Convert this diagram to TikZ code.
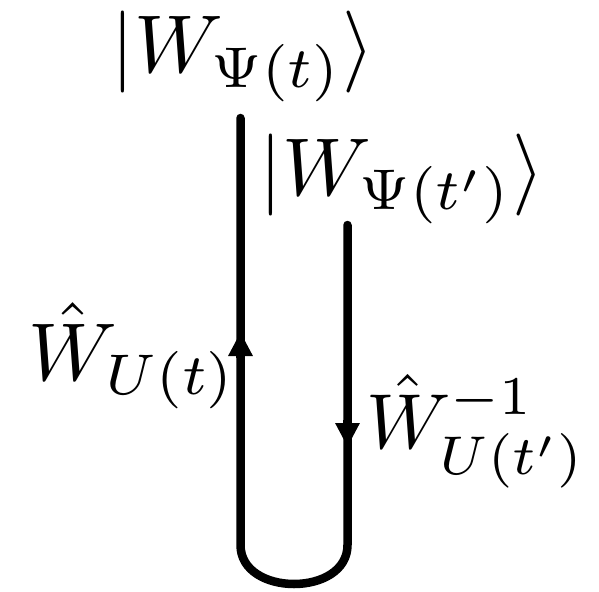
\documentclass[tikz,border=0pt]{standalone}
\usepackage{graphicx}
\usetikzlibrary{arrows.meta}
\newcommand{\bigmath}[2][8.2]{\scalebox{#1}{$#2$}}
\begin{document}
\begin{tikzpicture}[x=1pt,y=-1pt,
  lbl/.style={inner sep=0pt},
  wire/.style={line width=8.5pt, line cap=round},
  tipline/.style={line width=8.5pt, -{Triangle[length=24pt,width=23pt]}}]
\useasboundingbox (0,0) rectangle (599,591);
\coordinate (L) at (240.5,118);
\coordinate (Lb) at (240.5,545);
\coordinate (Rb) at (347.5,545);
\coordinate (R) at (347.5,225);
\draw[wire] (R) -- (Rb) .. controls (347.5,597) and (240.5,597) .. (Lb) -- (L);
\coordinate (la1) at (240.5,358);
\coordinate (la2) at (240.5,332);
\draw[tipline] (la1) -- (la2);
\coordinate (ra1) at (347.5,420);
\coordinate (ra2) at (347.5,447);
\draw[tipline] (ra1) -- (ra2);
\node[lbl, anchor=base] (top) at (243,73) {\bigmath{|W_{\Psi(t)}\rangle}};
\node[lbl, anchor=base] (second) at (402,195) {\bigmath{|W_{\Psi(t')}\rangle}};
\node[lbl, anchor=base west] (left) at (28,380) {\bigmath{\hat W_{U(t)}}};
\node[lbl, anchor=base west] (right) at (366,448) {\bigmath[7.8]{\hat W^{-1}_{U(t')}}};
\end{tikzpicture}
\end{document}
